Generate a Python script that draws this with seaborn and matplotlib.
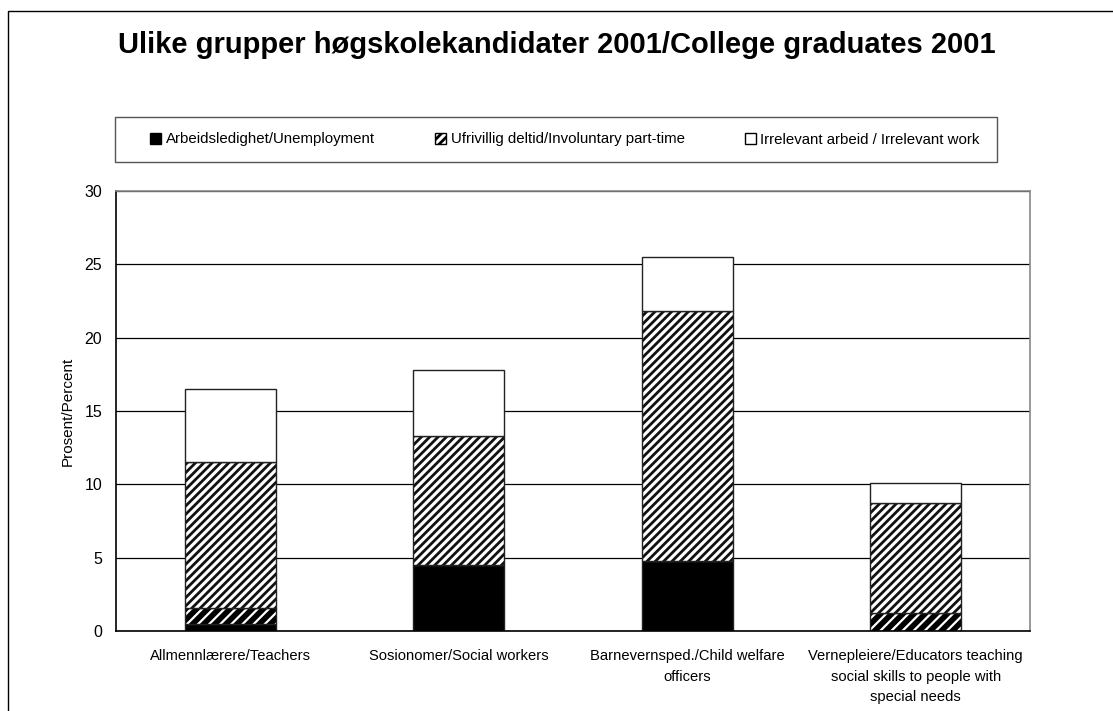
import matplotlib
matplotlib.use("Agg")
import matplotlib.pyplot as plt
from matplotlib.patches import Patch, Rectangle
import seaborn as sns
import numpy as np

# -----------------------
# data
# -----------------------
categories = [
    "Allmennlærere/Teachers",
    "Sosionomer/Social workers",
    "Barnevernsped./Child welfare\nofficers",
    "Vernepleiere/Educators teaching\nsocial skills to people with\nspecial needs",
]
unemployment = [0.5, 4.5, 4.8, 0.0]
part_time_low = [1.1, 0.0, 0.0, 1.2]      # bold hatched strip
part_time_main = [9.9, 8.8, 17.0, 7.5]    # fine hatched block
irrelevant = [5.0, 4.5, 3.7, 1.4]

title = "Ulike grupper høgskolekandidater 2001/College graduates 2001"
legend_labels = [
    "Arbeidsledighet/Unemployment",
    "Ufrivillig deltid/Involuntary part-time",
    "Irrelevant arbeid / Irrelevant work",
]

sns.set_theme(style="white")
plt.rcParams["font.family"] = ["Liberation Sans", "DejaVu Sans"]
plt.rcParams["text.color"] = "black"
plt.rcParams["axes.labelcolor"] = "black"
plt.rcParams["xtick.color"] = "black"
plt.rcParams["ytick.color"] = "black"
plt.rcParams["hatch.linewidth"] = 2.0

fig = plt.figure(figsize=(11.13, 7.11), dpi=100)
ax = fig.add_axes([116 / 1113, 1 - 631 / 711, (1030 - 116) / 1113, (631 - 191) / 711])

x = np.arange(len(categories))
# (values, face colour, hatch, hatch colour, hatch linewidth)
layers = [
    (unemployment, "black", None, "black", 2.0),
    (part_time_low, "black", "///", "white", 1.6),
    (part_time_main, "white", "////", "#111111", 2.0),
    (irrelevant, "white", None, "black", 2.0),
]

bottom = np.zeros(len(categories))
for vals, face, hatch, hcol, hlw in layers:
    n_before = len(ax.patches)
    sns.barplot(x=x, y=vals, bottom=bottom, ax=ax, width=0.4, color=face,
                edgecolor=hcol, linewidth=0, hatch=hatch,
                errorbar=None, native_scale=True, saturation=1)
    for p in ax.patches[n_before:]:
        p.set_facecolor(face)
        if hatch and hasattr(p, "set_hatch_linewidth"):
            p.set_hatch_linewidth(hlw)
    # outline drawn separately so the hatch colour can differ from the edge
    n_before = len(ax.patches)
    sns.barplot(x=x, y=vals, bottom=bottom, ax=ax, width=0.4, color="white",
                edgecolor="#222222", linewidth=1.0, errorbar=None,
                native_scale=True, saturation=1)
    for p in ax.patches[n_before:]:
        p.set_facecolor("none")
    bottom = bottom + np.array(vals)

ax.set_xlim(-0.5, 3.5)
ax.set_ylim(0, 30)
ax.set_yticks(np.arange(0, 31, 5))
ax.set_xticks(x)
ax.set_xticklabels(categories, fontsize=10.6, linespacing=1.6, va="top")
ax.set_xticks(np.arange(-0.5, 4.0, 1.0), minor=True)
ax.tick_params(axis="x", which="major", length=0, pad=13)
ax.tick_params(axis="x", which="minor", length=6, width=1, color="black", direction="out")
ax.tick_params(axis="y", length=6, width=1, color="black", direction="out", labelsize=11.5, pad=4)
ax.set_ylabel("Prosent/Percent", fontsize=11)
ax.yaxis.set_label_coords(-0.045, 0.5)

ax.yaxis.grid(True, color="black", linewidth=0.9)
ax.set_axisbelow(True)
for side in ["left", "bottom"]:
    ax.spines[side].set_color("black")
    ax.spines[side].set_linewidth(1.2)
for side in ["top", "right"]:
    ax.spines[side].set_color("#888888")
    ax.spines[side].set_linewidth(1.2)

fig.text(557 / 1113, 1 - 45 / 711, title, ha="center", va="center",
         fontsize=21, fontweight="bold")

# legend box
fig.patches.append(Rectangle((115 / 1113, 1 - 162 / 711), (997 - 115) / 1113, 45 / 711,
                             transform=fig.transFigure, facecolor="white",
                             edgecolor="#555555", linewidth=1.0))
handles = [
    Patch(facecolor="black", edgecolor="black"),
    Patch(facecolor="white", edgecolor="black", hatch="////"),
    Patch(facecolor="white", edgecolor="black"),
]
fig.legend(handles, legend_labels, loc="center", bbox_to_anchor=(565 / 1113, 1 - 139.5 / 711),
           ncol=3, frameon=False, fontsize=10.8, handlelength=0.75, handleheight=0.75,
           handletextpad=0.3, columnspacing=4.0)

# outer chart frame (clipped at the right and bottom)
fig.patches.append(Rectangle((8 / 1113, -0.1), 1.2, 1 - 11 / 711 + 0.1,
                             transform=fig.transFigure, facecolor="none",
                             edgecolor="black", linewidth=1.0))

fig.savefig("out.png", dpi=100)
